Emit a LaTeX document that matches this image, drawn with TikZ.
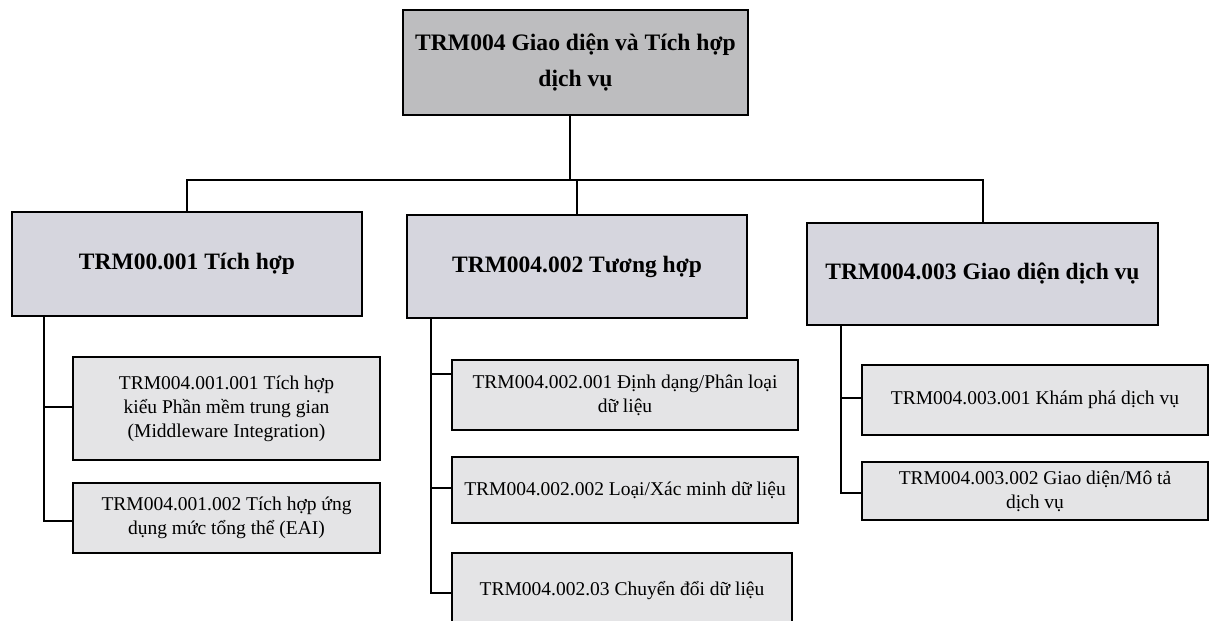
\documentclass[tikz,border=0pt]{standalone}
\usepackage{fontspec}
\setmainfont{Liberation Serif}
\definecolor{topfill}{HTML}{BDBDBF}
\definecolor{midfill}{HTML}{D6D6DE}
\definecolor{leaffill}{HTML}{E4E4E6}
\tikzset{
  box/.style={draw=black, line width=1.5pt, inner sep=0pt, align=center, anchor=center},
  topbox/.style={box, fill=topfill, font=\fontsize{23.6}{36}\selectfont\bfseries},
  midbox/.style={box, fill=midfill, font=\fontsize{23.5}{30}\selectfont\bfseries},
  leafbox/.style={box, fill=leaffill, font=\fontsize{19.5}{24}\selectfont},
  conn/.style={draw=black, line width=2pt}
}
\begin{document}
\begin{tikzpicture}[x=1pt, y=-1pt]
\useasboundingbox (0,0) rectangle (1211,621);
\fill[white] (0,0) rectangle (1211,621);

\node[topbox, minimum width=345pt, minimum height=105pt] (top) at (575.5,62.5)
  {TRM004 Giao diện và Tích hợp\\dịch vụ};

\node[midbox, minimum width=350pt, minimum height=104pt] (b1) at (187,264) {TRM00.001 Tích hợp};
\node[midbox, minimum width=340pt, minimum height=103pt] (b2) at (577,266.5) {TRM004.002 Tương hợp};
\node[midbox, minimum width=351pt, minimum height=102pt] (b3) at (982.5,274) {TRM004.003 Giao diện dịch vụ};

\node[leafbox, minimum width=307pt, minimum height=103pt] (c11) at (226.5,408.5)
  {TRM004.001.001 Tích hợp\\kiểu Phần mềm trung gian\\(Middleware Integration)};
\node[leafbox, minimum width=307pt, minimum height=70pt] (c12) at (226.5,518)
  {TRM004.001.002 Tích hợp ứng\\dụng mức tổng thể (EAI)};

\node[leafbox, minimum width=346pt, minimum height=70pt] (c21) at (625,395)
  {TRM004.002.001 Định dạng/Phân loại\\dữ liệu};
\node[leafbox, minimum width=346pt, minimum height=66pt] (c22) at (625,490)
  {TRM004.002.002 Loại/Xác minh dữ liệu};
\node[leafbox, minimum width=340pt, minimum height=75pt] (c23) at (622,590.5)
  {TRM004.002.03 Chuyển đổi dữ liệu};

\node[leafbox, minimum width=346pt, minimum height=70pt] (c31) at (1035,400)
  {TRM004.003.001 Khám phá dịch vụ};
\node[leafbox, minimum width=346pt, minimum height=58pt] (c32) at (1035,491)
  {TRM004.003.002 Giao diện/Mô tả\\dịch vụ};

\coordinate (bus) at (570,180);
\draw[conn] ([xshift=-5.5pt]top.south) -- (bus);
\draw[conn] (bus) -| (b1.north);
\draw[conn] (bus) -| (b2.north);
\draw[conn] (bus) -| (b3.north);

\draw[conn] ([xshift=33pt]b1.south west) |- ([yshift=1.5pt]c11.west);
\draw[conn] ([xshift=33pt]b1.south west) |- ([yshift=-3pt]c12.west);

\draw[conn] ([xshift=25pt]b2.south west) |- ([yshift=21pt]c21.west);
\draw[conn] ([xshift=25pt]b2.south west) |- ([yshift=2pt]c22.west);
\draw[conn] ([xshift=25pt]b2.south west) |- ([yshift=-2.5pt]c23.west);

\draw[conn] ([xshift=35pt]b3.south west) |- ([yshift=2pt]c31.west);
\draw[conn] ([xshift=35pt]b3.south west) |- ([yshift=-2pt]c32.west);
\end{tikzpicture}
\end{document}
